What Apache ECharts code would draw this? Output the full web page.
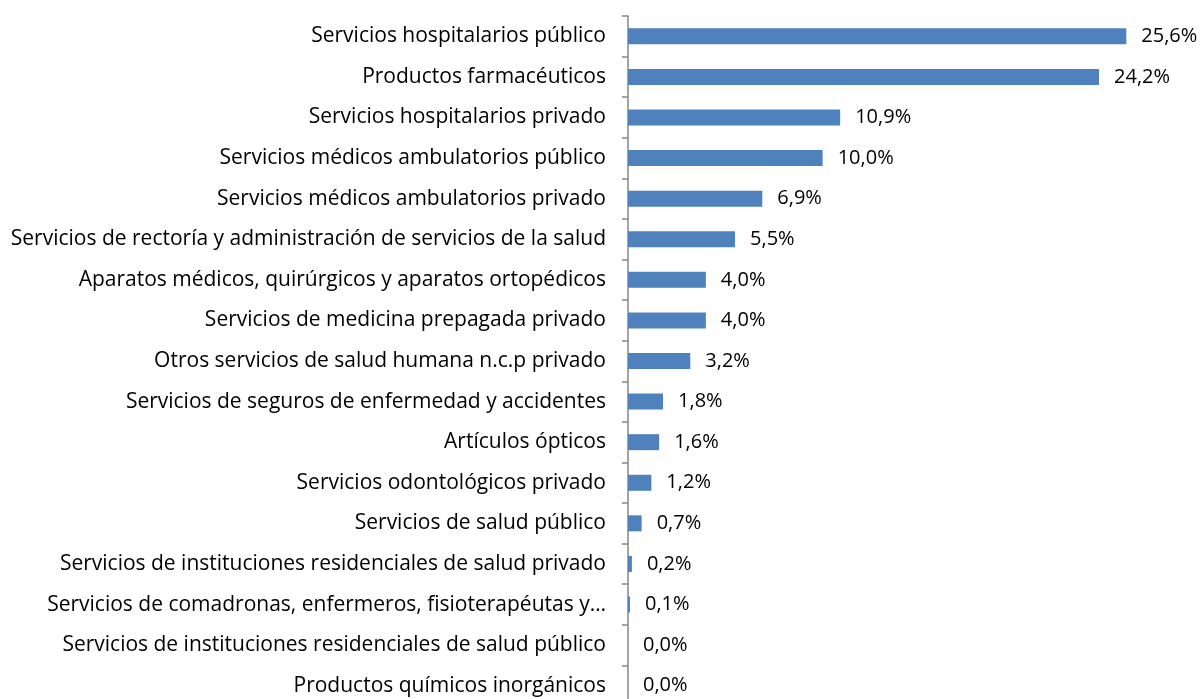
<!DOCTYPE html>
<html>
<head>
<meta charset="utf-8">
<script src="https://cdn.jsdelivr.net/npm/echarts@6/dist/echarts.min.js"></script>
<style>
    html, body {margin: 0; padding: 0; background: #fff;}
    #chart {width: 1203px; height: 699px;}
</style>
</head>
<body>
<div id="chart"></div>
<script>
const categories = [
    'Servicios hospitalarios público',
    'Productos farmacéuticos',
    'Servicios hospitalarios privado',
    'Servicios médicos ambulatorios público',
    'Servicios médicos ambulatorios privado',
    'Servicios de rectoría y administración de servicios de la salud',
    'Aparatos médicos, quirúrgicos y aparatos ortopédicos',
    'Servicios de medicina prepagada privado',
    'Otros servicios de salud humana n.c.p privado',
    'Servicios de seguros de enfermedad y accidentes',
    'Artículos ópticos',
    'Servicios odontológicos privado',
    'Servicios de salud público',
    'Servicios de instituciones residenciales de salud privado',
    'Servicios de comadronas, enfermeros, fisioterapéutas y…',
    'Servicios de instituciones residenciales de salud público',
    'Productos químicos inorgánicos'
];
const shares = [25.6, 24.2, 10.9, 10.0, 6.9, 5.5, 4.0, 4.0, 3.2, 1.8, 1.6, 1.2, 0.7, 0.2, 0.1, 0.0, 0.0];

const font = '"Open Sans", sans-serif';
const chart = echarts.init(document.getElementById('chart'));

chart.setOption({
    animation: false,
    grid: {left: 628, top: 16, height: 690, right: 30, outerBoundsMode: 'none'},
    xAxis: {
        type: 'value',
        min: 0,
        max: 28,
        show: false
    },
    yAxis: {
        type: 'category',
        data: categories,
        inverse: true,
        axisLine: {lineStyle: {color: '#868686', width: 1.5}},
        axisTick: {show: true, length: 6, lineStyle: {color: '#868686', width: 1.5}},
        axisLabel: {
            margin: 22,
            color: '#000',
            fontSize: 21,
            fontFamily: font
        }
    },
    series: [{
        type: 'bar',
        data: shares,
        barWidth: 16,
        itemStyle: {color: '#4F81BD'},
        label: {
            show: true,
            position: 'right',
            distance: 15,
            color: '#000',
            fontSize: 20,
            fontFamily: font,
            formatter: p => p.value.toFixed(1).replace('.', ',') + '%'
        }
    }]
});
</script>
</body>
</html>
